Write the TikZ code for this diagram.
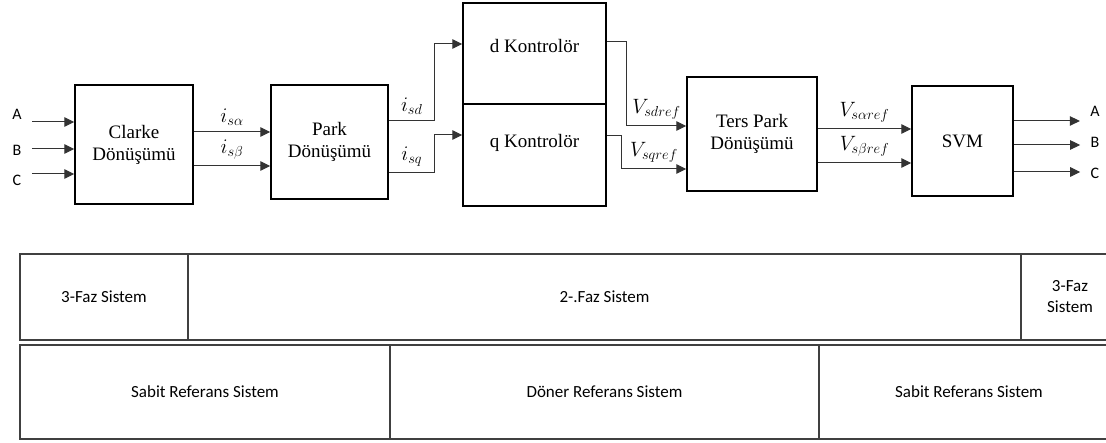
\documentclass[tikz,border=0pt]{standalone}
\usepackage{fontspec}
\setmainfont{Liberation Serif}
\newfontfamily\calibri{Carlito}
\usetikzlibrary{arrows.meta}

\begin{document}
\begin{tikzpicture}[x=1pt,y=1pt,->,>={Triangle[length=10pt,width=9.5pt]},
                    black!80,line width=1pt,
                    font=\fontsize{19}{22}\selectfont]
  \tikzstyle{blok}=[draw=black,line width=1.5pt,align=center,inner sep=0pt,text=black]
  \tikzstyle{giris}=[font=\calibri\fontsize{16}{19}\selectfont,inner xsep=10pt,inner ysep=0pt,text=black]
  \tikzstyle{etiket}=[font=\fontsize{21}{24}\selectfont,text=black,above=3pt]
  \tikzstyle{hucre}=[draw=black!75,line width=1.5pt,inner sep=0pt,align=center,text=black,
                     font=\calibri\fontsize{17}{21}\selectfont]
  \useasboundingbox (0,0) rectangle (1106,443);

  \node[blok, minimum width=118, minimum height=119] (CL)  at (134,298.5)   {Clarke\\Dönüşümü};
  \node[blok, minimum width=117, minimum height=114] (PK)  at (329.5,301)   {Park\\Dönüşümü};
  \node[blok, minimum width=143, minimum height=101] (DK)  at (534.5,389.5) {};
  \node[blok, minimum width=143, minimum height=102] (QK)  at (534.5,288)   {};
  \node[anchor=base,text=black]                      (DKt) at (534.5,390)   {d Kontrolör};
  \node[anchor=base,text=black]                      (QKt) at (534.5,295)   {q Kontrolör};
  \node[blok, minimum width=130, minimum height=114] (TP)  at (752,309)     {Ters Park\\Dönüşümü};
  \node[blok, minimum width=101, minimum height=110] (SV)  at (962.5,302)   {SVM};

  \node[giris] (iA) at (17,329)    {A};
  \node[giris] (iB) at (17,293)    {B};
  \node[giris] (iC) at (17,263)    {C};
  \node[giris] (oA) at (1095,331.5) {A};
  \node[giris] (oB) at (1095,301)  {B};
  \node[giris] (oC) at (1095,270)  {C};

  \node[hucre, minimum width=168, minimum height=86] (F3a) at (104,146)   {3-Faz Sistem};
  \node[hucre, minimum width=833, minimum height=86] (F2)  at (604.5,146) {2-.Faz Sistem};
  \node[hucre, minimum width=98,  minimum height=86] (F3b) at (1070,146)  {3-Faz\\Sistem};
  \node[hucre, minimum width=370, minimum height=94] (SR1) at (205,51)    {Sabit Referans Sistem};
  \node[hucre, minimum width=429, minimum height=94] (DR)  at (604.5,51)  {Döner Referans Sistem};
  \node[hucre, minimum width=300, minimum height=94] (SR2) at (969,51)    {Sabit Referans Sistem};

  \path ([yshift=-8pt]iA.east)    edge ([yshift=22.5pt]CL.west)
        ([yshift=1pt]iB.east)     edge ([yshift=-4.5pt]CL.west)
        ([yshift=6pt]iC.east)     edge ([yshift=-29.5pt]CL.west)

        ([yshift=12.5pt]CL.east)  edge node[etiket] {$i_{s\alpha}$} ([yshift=10pt]PK.west)
        ([yshift=-21.5pt]CL.east) edge node[etiket] {$i_{s\beta}$}  ([yshift=-24pt]PK.west)

        ([yshift=5pt]TP.east)     edge node[etiket] {$V_{s\alpha ref}$} ([yshift=12pt]SV.west)
        ([yshift=-29pt]TP.east)   edge node[etiket] {$V_{s\beta ref}$}  ([yshift=-22pt]SV.west)

        ([yshift=20pt]SV.east)    edge ([yshift=-9.5pt]oA.west)
        ([yshift=-4pt]SV.east)    edge ([yshift=-3pt]oB.west)
        ([yshift=-31pt]SV.east)   edge ([yshift=1pt]oC.west);

  \draw ([yshift=21pt]PK.east)  -- node[etiket] {$i_{sd}$} ++(46,0) |- ([yshift=9.5pt]DK.west);
  \draw ([yshift=-31pt]PK.east) -- node[etiket] {$i_{sq}$} ++(46,0) |- ([yshift=20pt]QK.west);
  \draw ([yshift=11.5pt]DK.east) -- ++(20,0) |- node[etiket,pos=0.75] {$V_{sdref}$} ([yshift=8pt]TP.west);
  \draw ([yshift=19pt]QK.east)   -- ++(15,0) |- node[etiket,pos=0.75] {$V_{sqref}$} ([yshift=-35pt]TP.west);
\end{tikzpicture}
\end{document}
